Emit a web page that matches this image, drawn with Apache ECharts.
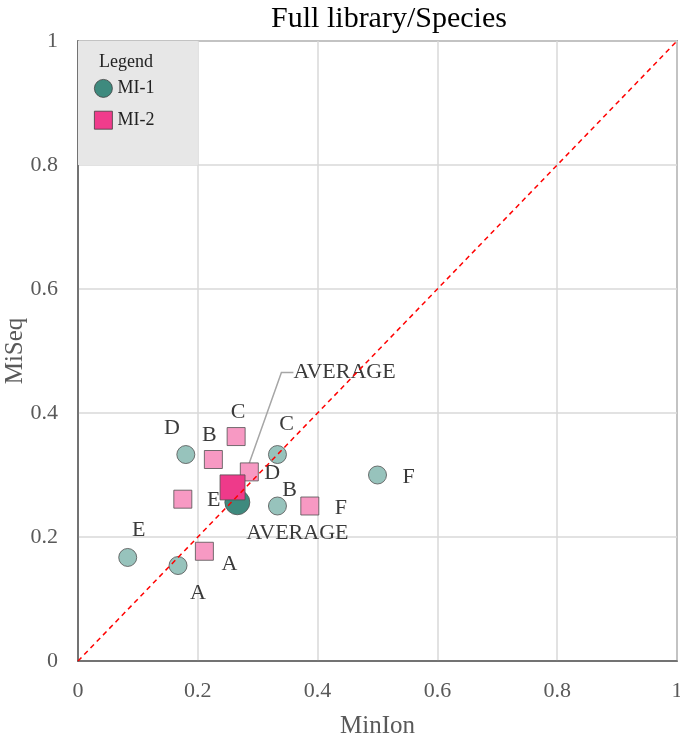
<!DOCTYPE html>
<html>
<head>
<meta charset="utf-8">
<script src="https://cdn.jsdelivr.net/npm/echarts@6/dist/echarts.min.js"></script>
<style>html,body{margin:0;padding:0;background:#fff}#c{width:680px;height:734px}</style>
</head>
<body>
<div id="c"></div>
<script>
// ---- data ----
const pointLabels = ['A', 'B', 'C', 'D', 'E', 'F', 'AVERAGE'];
const mi1X = [0.167, 0.333, 0.333, 0.180, 0.083, 0.500, 0.266];
const mi1Y = [0.154, 0.250, 0.333, 0.333, 0.167, 0.300, 0.256];
const mi2X = [0.211, 0.226, 0.264, 0.286, 0.175, 0.387, 0.258];
const mi2Y = [0.177, 0.325, 0.362, 0.305, 0.261, 0.250, 0.280];
const diagonal = [[0, 0], [1, 1]];
const axisTicks = [0, 0.2, 0.4, 0.6, 0.8, 1];

// ---- styles ----
const FONT = '"Liberation Serif", "Times New Roman", serif';
const mi1Offsets = {A: [20, 28], B: [12, -16], C: [9, -30], D: [-14, -26], E: [11, -27], F: [31, 2], AVERAGE: [60, 31]};
const mi2Offsets = {A: [25, 13], B: [-4, -24], C: [2, -24], D: [23, 1], E: [31, 1], F: [31, 2], AVERAGE: [112, -115]};

function buildSeriesData(xs, ys, offsets, small, big, isSquare) {
  return pointLabels.map((name, i) => {
    const avg = name === 'AVERAGE';
    const item = {
      name: name,
      value: [xs[i], ys[i]],
      symbolSize: avg ? 25 : 18,
      itemStyle: {color: avg ? big : small, borderColor: '#505050', borderWidth: 0.8, opacity: 1},
      label: {show: true, formatter: name, position: 'inside', offset: isSquare ? [0, 0] : offsets[name],
        fontFamily: FONT, fontSize: 22, color: '#3A3A3A'}
    };
    if (avg && isSquare) {
      item.labelLine = {show: true, length2: 12, lineStyle: {color: '#A6A6A6', width: 1.5}};
    }
    return item;
  });
}

const chart = echarts.init(document.getElementById('c'), null, {renderer: 'canvas'});
chart.setOption({
  animation: false,
  title: {text: 'Full library/Species', left: 384, textAlign: 'center', top: -1,
    textStyle: {fontFamily: FONT, fontSize: 30, fontWeight: 'normal', color: '#000'}},
  grid: {left: 78, right: 3, top: 41, bottom: 73, show: true, borderColor: '#595959', borderWidth: 1.5,
    containLabel: false, outerBoundsMode: 'none'},
  xAxis: {
    type: 'value', min: 0, max: 1, interval: 0.2,
    name: 'MinIon', nameLocation: 'middle', nameGap: 53, nameMoveOverlap: false,
    nameTextStyle: {fontFamily: FONT, fontSize: 25, color: '#595959'},
    axisLine: {show: true, lineStyle: {color: '#595959', width: 1.5}},
    axisTick: {show: false},
    splitLine: {lineStyle: {color: '#D9D9D9', width: 1.5}},
    axisLabel: {fontFamily: FONT, fontSize: 22, color: '#595959', margin: 19,
      formatter: v => axisTicks.includes(+v.toFixed(1)) ? String(+v.toFixed(1)) : ''}
  },
  yAxis: {
    type: 'value', min: 0, max: 1, interval: 0.2,
    name: 'MiSeq', nameLocation: 'middle', nameGap: 50, nameMoveOverlap: false,
    nameTextStyle: {fontFamily: FONT, fontSize: 25, color: '#595959'},
    axisLine: {show: true, lineStyle: {color: '#595959', width: 1.5}},
    axisTick: {show: false},
    splitLine: {lineStyle: {color: '#D9D9D9', width: 1.5}},
    axisLabel: {fontFamily: FONT, fontSize: 22, color: '#595959', margin: 20,
      formatter: v => String(+v.toFixed(1))}
  },
  legend: {
    orient: 'vertical', left: 94, top: 79, padding: 0, itemGap: 13,
    itemWidth: 18, itemHeight: 18,
    textStyle: {fontFamily: FONT, fontSize: 18, color: '#222'},
    data: [
      {name: 'MI-1', icon: 'circle', itemStyle: {color: '#3E8A7E', borderColor: '#404040', borderWidth: 0.8, opacity: 1}},
      {name: 'MI-2', icon: 'rect', itemStyle: {color: '#F03C8C', borderColor: '#404040', borderWidth: 0.8, opacity: 1}}
    ]
  },
  graphic: [{type: 'text', left: 99, top: 53, z: 10,
    style: {text: 'Legend', font: '18px ' + FONT, fill: '#222'}}],
  series: [
    {
      name: 'MI-1', type: 'scatter', symbol: 'circle', z: 2,
      data: buildSeriesData(mi1X, mi1Y, mi1Offsets, '#97C3BC', '#3E8A7E', false),
      markArea: {silent: true, itemStyle: {color: '#E7E7E7'},
        data: [[{xAxis: 0, yAxis: 0.8}, {xAxis: 0.2, yAxis: 1}]]}
    },
    {
      name: 'MI-2', type: 'scatter', symbol: 'rect', z: 3,
      data: buildSeriesData(mi2X, mi2Y, mi2Offsets, '#F799C3', '#EE3A8A', true),
      labelLayout: function (params) {
        const off = mi2Offsets[pointLabels[params.dataIndex]] || [0, 0];
        return {dx: off[0], dy: off[1]};
      }
    },
    {
      name: 'diag', type: 'line', z: 4, symbol: 'none', silent: true,
      data: diagonal,
      lineStyle: {color: '#FF0000', width: 1.5, type: [5, 4]}
    }
  ]
});
</script>
</body>
</html>
